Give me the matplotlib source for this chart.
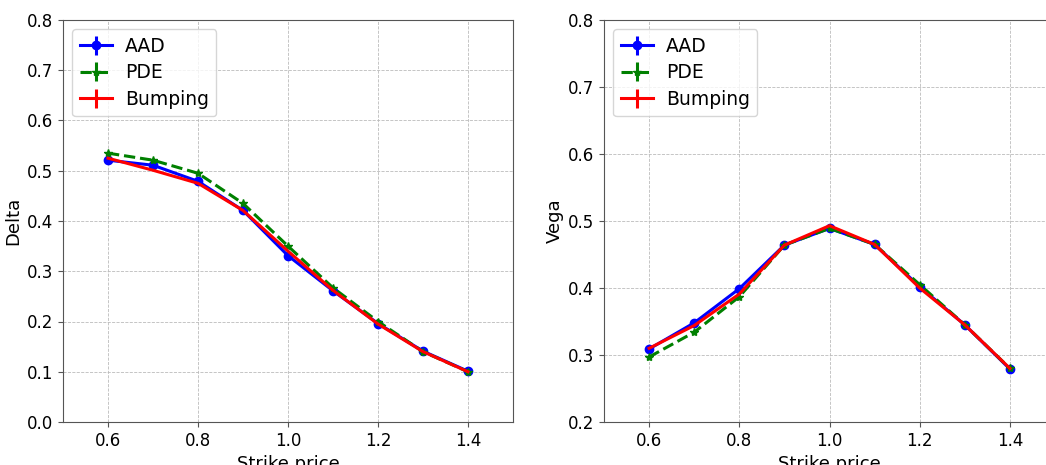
import numpy as np
import matplotlib.pyplot as plt

strikes = [0.6, 0.7, 0.8, 0.9, 1.0, 1.1, 1.2, 1.3, 1.4]

delta_aad = [0.521, 0.511, 0.479, 0.421, 0.331, 0.261, 0.196, 0.141, 0.101]
delta_pde = [0.535, 0.521, 0.495, 0.435, 0.350, 0.267, 0.200, 0.140, 0.100]
delta_bump = [0.525, 0.501, 0.475, 0.421, 0.340, 0.262, 0.195, 0.140, 0.100]

vega_aad = [0.309, 0.348, 0.399, 0.464, 0.489, 0.465, 0.402, 0.345, 0.279]
vega_pde = [0.297, 0.334, 0.387, 0.464, 0.489, 0.465, 0.405, 0.345, 0.280]
vega_bump = [0.310, 0.344, 0.391, 0.464, 0.493, 0.465, 0.400, 0.345, 0.280]

# standard errors of the Monte Carlo estimates (too small to show)
err_aad = np.zeros(len(strikes))
err_pde = np.zeros(len(strikes))
err_bump = np.zeros(len(strikes))

plt.rcParams['font.family'] = 'DejaVu Sans'

fig = plt.figure(figsize=(10.46, 4.65), dpi=100)
ax1 = fig.add_axes([63/1046, 1-422/465, 450/1046, 402/465])
ax2 = fig.add_axes([604/1046, 1-422/465, 451/1046, 402/465])

def draw(ax, aad, pde, bump, ylabel, ylim):
    ax.errorbar(strikes, aad, yerr=err_aad, color='blue', marker='o', ms=6,
                lw=2.2, label='AAD')
    ax.errorbar(strikes, pde, yerr=err_pde, color='green', marker='*', ms=6,
                lw=2.2, ls='--', label='PDE')
    ax.errorbar(strikes, bump, yerr=err_bump, color='red', lw=2.2,
                label='Bumping')
    ax.set_xlim(0.5, 1.5)
    ax.set_ylim(*ylim)
    ax.set_xticks([0.6, 0.8, 1.0, 1.2, 1.4])
    ax.set_xlabel('Strike price', fontsize=13)
    ax.set_ylabel(ylabel, fontsize=13, labelpad=3)
    ax.tick_params(labelsize=12, color='#555555')
    ax.grid(True, ls='--', lw=0.6, color='#bbbbbb')
    for s in ax.spines.values():
        s.set_color('#555555')
    ax.legend(loc='upper left', fontsize=13.5, handlelength=1.7,
              labelspacing=0.4, handletextpad=0.7, borderpad=0.4)

draw(ax1, delta_aad, delta_pde, delta_bump, 'Delta', (0.0, 0.8))
draw(ax2, vega_aad, vega_pde, vega_bump, 'Vega', (0.2, 0.8))

fig.savefig('out.png', dpi=100)
